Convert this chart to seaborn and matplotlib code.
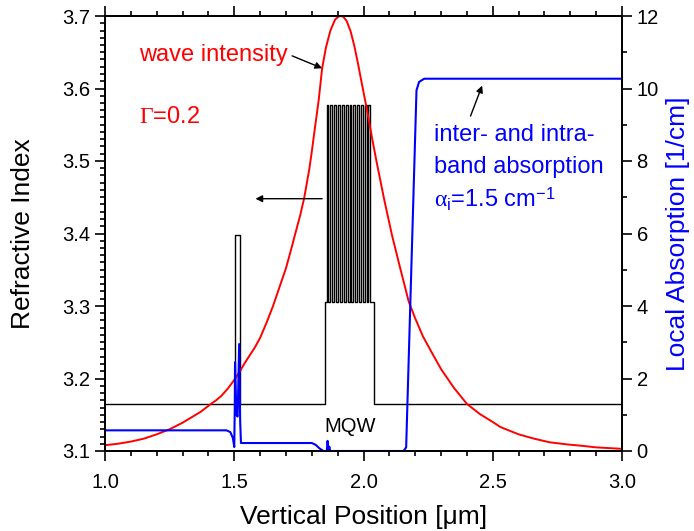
import numpy as np
import pandas as pd
import matplotlib
matplotlib.use("Agg")
import matplotlib.pyplot as plt
from matplotlib.ticker import MultipleLocator, FormatStrFormatter
import seaborn as sns

# ------------------------------
# Data
# ------------------------------
# refractive index profile: plain steps
n_clad = 3.165
n_spike = 3.398
spike_edges = [1.501, 1.521]
mqw_edges = [1.851, 2.040]
n_mqw = 3.305
n_barrier = 3.577
comb_left = [1.857, 1.872, 1.887, 1.901, 1.916, 1.931, 1.946, 1.960, 1.975, 1.990, 2.005, 2.019]
comb_right = [1.8645, 1.8795, 1.8945, 1.9085, 1.9235, 1.9385, 1.9535, 1.9675, 1.9825, 1.9975, 2.0125, 2.0265]

# wave intensity (plotted on refractive index scale)
wave_x = [1.00, 1.05, 1.10, 1.15, 1.20, 1.25, 1.30, 1.37, 1.41, 1.43, 1.45, 1.475, 1.50, 1.52,
          1.54, 1.56, 1.58, 1.60, 1.625, 1.65, 1.675, 1.70, 1.72, 1.74, 1.755, 1.77, 1.79,
          1.80, 1.81, 1.827, 1.84, 1.855, 1.872, 1.89, 1.902, 1.912, 1.922, 1.935, 1.95,
          1.965, 1.98, 1.995, 2.01, 2.02, 2.034, 2.05, 2.08, 2.11, 2.14, 2.175, 2.20, 2.23,
          2.27, 2.30, 2.35, 2.40, 2.45, 2.50, 2.53, 2.60, 2.66, 2.72, 2.79, 2.85, 2.90, 2.95,
          3.00]
wave_y = [3.108, 3.110, 3.113, 3.117, 3.123, 3.130, 3.139, 3.154, 3.165, 3.170, 3.176, 3.186,
          3.198, 3.209, 3.221, 3.232, 3.243, 3.256, 3.277, 3.300, 3.326, 3.352, 3.378, 3.405,
          3.425, 3.448, 3.488, 3.513, 3.540, 3.585, 3.628, 3.657, 3.680, 3.695, 3.699, 3.700,
          3.699, 3.693, 3.679, 3.658, 3.632, 3.604, 3.577, 3.558, 3.530, 3.500, 3.447, 3.398,
          3.355, 3.306, 3.283, 3.258, 3.232, 3.213, 3.187, 3.165, 3.151, 3.140, 3.133, 3.123,
          3.117, 3.112, 3.109, 3.107, 3.105, 3.104, 3.103]

# local absorption [1/cm]
abs_x = [1.00, 1.47, 1.485, 1.495, 1.500, 1.502, 1.503, 1.508, 1.513, 1.519, 1.523, 1.526,
         1.80, 1.815, 1.83, 1.845, 1.858, 1.861, 1.864, 1.868, 1.871, 1.875, 2.155, 2.165,
         2.205, 2.215, 2.235, 3.00]
abs_y = [0.57, 0.57, 0.52, 0.35, 0.11, 1.2, 2.45, 1.0, 0.95, 2.95, 0.8, 0.22,
         0.22, 0.17, 0.07, 0.0, 0.0, 0.28, 0.05, 0.12, 0.0, 0.0, 0.0, 0.1,
         9.95, 10.18, 10.27, 10.27]

# ------------------------------
# Build the step profile table
# ------------------------------
px = [1.0, spike_edges[0], spike_edges[0], spike_edges[1], spike_edges[1],
      mqw_edges[0], mqw_edges[0]]
py = [n_clad, n_clad, n_spike, n_spike, n_clad, n_clad, n_mqw]
for l, r in zip(comb_left, comb_right):
    px += [l, l, r, r]
    py += [n_mqw, n_barrier, n_barrier, n_mqw]
px += [mqw_edges[1], mqw_edges[1], 3.0]
py += [n_mqw, n_clad, n_clad]

index_df = pd.DataFrame({"x": px, "n": py})
wave_df = pd.DataFrame({"x": wave_x, "I": wave_y})
abs_df = pd.DataFrame({"x": abs_x, "alpha": abs_y})

sns.set_style("ticks")
plt.rcParams["font.family"] = ["Liberation Sans", "DejaVu Sans"]
plt.rcParams["mathtext.fontset"] = "custom"
plt.rcParams["mathtext.rm"] = "Liberation Sans"
plt.rcParams["mathtext.it"] = "Liberation Serif"
plt.rcParams["mathtext.sf"] = "Liberation Serif"
plt.rcParams["axes.linewidth"] = 1.3
for key in ["text.color", "axes.labelcolor", "xtick.color", "ytick.color", "axes.edgecolor"]:
    plt.rcParams[key] = "black"

fig = plt.figure(figsize=(6.94, 5.31), dpi=100)
ax = fig.add_axes([105 / 694, 80 / 531, 517 / 694, 435 / 531])
ax2 = ax.twinx()

sns.lineplot(data=index_df, x="x", y="n", estimator=None, sort=False, color="black",
             lw=1.0, ax=ax)
sns.lineplot(data=wave_df, x="x", y="I", estimator=None, sort=False, color="#ff0000",
             lw=1.4, ax=ax)
sns.lineplot(data=abs_df, x="x", y="alpha", estimator=None, sort=False, color="#0000ff",
             lw=1.5, ax=ax2)

ax.set_xlim(1.0, 3.0)
ax.set_ylim(3.1, 3.7)
ax2.set_ylim(0, 12)

ax.xaxis.set_major_locator(MultipleLocator(0.5))
ax.xaxis.set_minor_locator(MultipleLocator(0.1))
ax.xaxis.set_major_formatter(FormatStrFormatter("%.1f"))
ax.yaxis.set_major_locator(MultipleLocator(0.1))
ax.yaxis.set_minor_locator(MultipleLocator(0.01))
ax.yaxis.set_major_formatter(FormatStrFormatter("%.1f"))
ax2.yaxis.set_major_locator(MultipleLocator(2))
ax2.yaxis.set_minor_locator(MultipleLocator(1))

ax.tick_params(which="both", direction="out", top=True, right=False, labelsize=14.5, width=1.2)
ax.tick_params(which="major", length=7)
ax.tick_params(which="minor", length=3.5)
ax.tick_params(axis="x", which="major", pad=9)
ax2.tick_params(which="both", direction="out", labelsize=14.5, width=1.2)
ax2.tick_params(which="major", length=7)
ax2.tick_params(which="minor", length=3.5)

ax.set_xlabel("Vertical Position [μm]", fontsize=19, labelpad=9)
ax.set_ylabel("Refractive Index", fontsize=19, labelpad=20)
ax2.set_ylabel("Local Absorption [1/cm]", fontsize=19, color="#0000ff", labelpad=5)

# annotations
ax.text(1.131, 3.638, "wave intensity", color="#ff0000", fontsize=17, va="baseline")
ax.text(1.131, 3.553, r"$\mathsf{\Gamma}$=0.2", color="#ff0000", fontsize=17, va="baseline")
ax.text(1.849, 3.126, "MQW", color="black", fontsize=14.5, va="baseline")
ax.text(2.272, 3.527, "inter- and intra-", color="#0000ff", fontsize=17, va="baseline")
ax.text(2.272, 3.484, "band absorption", color="#0000ff", fontsize=17, va="baseline")
ax.text(2.272, 3.436, r"$\alpha_{\mathrm{i}}$=1.5 cm$^{\mathrm{-1}}$", color="#0000ff",
        fontsize=17, va="baseline")

arrow = dict(arrowstyle="-|>", color="black", lw=1.0, mutation_scale=10, shrinkA=0, shrinkB=0)
ax.annotate("", xy=(1.840, 3.628), xytext=(1.724, 3.645), arrowprops=arrow)
ax.annotate("", xy=(1.582, 3.448), xytext=(1.840, 3.448), arrowprops=arrow)
ax.annotate("", xy=(2.459, 3.604), xytext=(2.414, 3.562), arrowprops=arrow)

fig.savefig("out.png", dpi=100)
